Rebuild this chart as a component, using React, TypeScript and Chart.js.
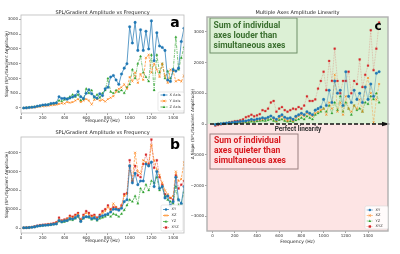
import React, { useEffect, useRef } from "react";
import { Chart, registerables } from "chart.js";
Chart.register(...registerables);

// ---------------- DATA ----------------
const freqs = [25, 50, 75, 100, 125, 150, 175, 200, 225, 250, 275, 300, 325, 350, 375, 400, 425, 450, 475, 500,
  525, 550, 575, 600, 625, 650, 675, 700, 725, 750, 775, 800, 825, 850, 875, 900, 925, 950, 975, 1000,
  1025, 1050, 1075, 1100, 1125, 1150, 1175, 1200, 1225, 1250, 1275, 1300, 1325, 1350, 1375, 1400, 1425, 1450, 1475, 1500];

// panel a
const xAxisSlope = [0, 5, 15, 25, 35, 60, 75, 100, 105, 110, 150, 160, 170, 380, 320, 330, 300, 340, 370, 420,
  560, 380, 320, 500, 620, 480, 380, 330, 480, 420, 650, 700, 1050, 1100, 950, 800, 1150, 1350, 1500, 2750,
  2200, 2900, 1950, 2650, 1950, 2600, 2000, 2950, 1600, 2550, 2100, 2050, 1950, 950, 900, 1300, 1250, 1350, 2250, 2700];
const yAxisSlope = [0, 5, 10, 15, 25, 40, 50, 60, 70, 80, 90, 100, 110, 140, 160, 150, 200, 180, 200, 250,
  300, 200, 250, 300, 250, 120, 280, 300, 250, 280, 220, 300, 350, 400, 550, 650, 700, 800, 650, 1050,
  900, 1200, 850, 1150, 950, 1700, 1800, 1200, 1500, 1300, 1050, 1500, 1100, 850, 1300, 1250, 900, 950, 900, 1100];
const zAxisSlope = [0, 10, 20, 30, 40, 60, 70, 90, 100, 120, 130, 150, 180, 250, 230, 280, 320, 380, 450, 380,
  450, 250, 300, 650, 500, 600, 350, 450, 350, 500, 600, 1000, 550, 500, 600, 550, 600, 500, 700, 800,
  1300, 1000, 1500, 1750, 1200, 1050, 900, 1800, 600, 1800, 1200, 1500, 1000, 1250, 1000, 1250, 2400, 1300, 1700, 2050];

// panel b
const xySlope = [10, 15, 25, 40, 60, 100, 120, 140, 150, 160, 180, 200, 220, 400, 330, 380, 400, 500, 480, 550,
  650, 350, 550, 600, 600, 500, 550, 450, 600, 650, 700, 750, 850, 1000, 1000, 950, 1050, 1400, 1500, 3300,
  2400, 2900, 2300, 2500, 2500, 3400, 3300, 3500, 2200, 3000, 2100, 2200, 1600, 1700, 1200, 1400, 2700, 1500, 1300, 2200];
const xzSlope = [10, 20, 30, 50, 70, 110, 140, 160, 170, 190, 200, 230, 270, 450, 380, 420, 480, 600, 550, 650,
  750, 400, 650, 800, 700, 600, 650, 500, 650, 800, 900, 1100, 900, 1300, 1100, 950, 1150, 1700, 1800, 3300,
  2500, 4000, 3000, 2900, 3600, 3500, 3300, 4400, 3600, 3100, 2800, 2400, 2000, 1800, 1600, 1700, 3000, 2500, 2600, 3500];
const yzSlope = [10, 15, 25, 35, 55, 90, 110, 130, 140, 150, 170, 190, 210, 350, 300, 330, 380, 450, 420, 500,
  600, 350, 500, 600, 550, 450, 500, 400, 500, 550, 600, 700, 600, 750, 700, 600, 750, 950, 1200, 1500,
  1400, 1700, 1300, 2100, 1900, 2300, 2000, 2500, 2400, 2700, 2000, 2200, 1700, 1500, 1400, 1300, 2200, 1200, 1300, 1900];
const xyzSlope = [10, 20, 30, 50, 80, 120, 150, 170, 180, 200, 220, 250, 300, 550, 400, 450, 500, 650, 600, 700,
  800, 450, 700, 900, 800, 650, 700, 550, 700, 900, 1000, 1200, 1000, 1100, 1100, 1000, 1200, 1800, 1850, 3600,
  2500, 3300, 2800, 2700, 3400, 3900, 3400, 4700, 3200, 3600, 2700, 2300, 1800, 1700, 1600, 1500, 2800, 2100, 2300, 2500];

// panel c (delta slope = sum of individual - simultaneous)
const xyDelta = [-20, 0, 10, 20, 30, 40, 50, 60, 70, 80, 90, 100, 120, 150, 130, 160, 170, 200, 180, 220,
  260, 200, 150, 250, 300, 220, 180, 200, 150, 250, 300, 350, 300, 400, 350, 300, 450, 500, 550,
  800, 600, 1100, 700, 1400, 1000, 1100, 600, 1700, 900, 700, 1100, 800, 1000, 700, 1200, 800, 1300, 900, 1650, 1700];
const xzDelta = [-30, -10, 0, 10, 20, 30, 40, 50, 50, 60, 70, 80, 90, 120, 100, 130, 140, 150, 160, 200,
  250, 150, 100, 200, 250, 150, 100, 150, 100, 200, 250, 300, 250, 350, 300, 250, 350, 400, 450,
  500, 300, 700, 500, 1600, 400, 700, 300, 900, 500, 400, 600, 500, 800, 400, 1200, 1500, 1000, 50, 800, 1300];
const yzDelta = [-10, 0, 5, 10, 15, 20, 25, 30, 35, 40, 45, 50, 60, 80, 70, 90, 100, 110, 100, 130,
  150, 100, 80, 130, 150, 100, 80, 90, 70, 120, 150, 200, 150, 250, 200, 150, 300, 350, 400,
  500, 400, 600, 350, 700, 450, 900, 400, 700, 500, 300, 600, 450, 500, 400, 700, 650, 900, 800, 1000, 700];
const xyzDelta = [-50, -30, -10, 10, 20, 50, 70, 90, 100, 120, 150, 220, 250, 300, 250, 280, 320, 450, 420, 500,
  700, 750, 400, 500, 550, 450, 400, 450, 500, 480, 550, 500, 600, 900, 750, 750, 800, 1150, 1400,
  1700, 1100, 2050, 1400, 2450, 1400, 1000, 1400, 1400, 1700, 1000, 1400, 1300, 2100, 1200, 1600, 1900, 3050, 1750, 2450, 3300];

const freqTicks = [0, 200, 400, 600, 800, 1000, 1200, 1400];
const slopeTicksA = [0, 500, 1000, 1500, 2000, 2500, 3000];
const slopeTicksB = [0, 1000, 2000, 3000, 4000];
const deltaTicks = [-3000, -2000, -1000, 0, 1000, 2000, 3000];

const legendA = ["X Axis", "Y Axis", "Z Axis"];
const legendB = ["XY", "XZ", "YZ", "XYZ"];

// ---------------- STYLE ----------------
const FAM = '"DejaVu Sans", sans-serif';
const BLUE = "#1f77b4", ORANGE = "#ff7f0e", GREEN = "#2ca02c", RED = "#d62728";

type Sty = { color: string; point: string; dash: number[] };
const S_BLUE: Sty = { color: BLUE, point: "circle", dash: [] };
const S_ORANGE: Sty = { color: ORANGE, point: "crossRot", dash: [2.5, 1.2] };
const S_GREEN: Sty = { color: GREEN, point: "triangle", dash: [3, 1, 0.8, 1] };
const S_RED: Sty = { color: RED, point: "rect", dash: [0.8, 0.8] };

function hexA(hex: string, a: number) {
  const n = parseInt(hex.slice(1), 16);
  return `rgba(${(n >> 16) & 255},${(n >> 8) & 255},${n & 255},${a})`;
}

function makeDs(label: string, vals: number[], s: Sty, lineAlpha: number) {
  return {
    label,
    data: freqs.map((f, i) => ({ x: f, y: vals[i] })),
    borderColor: hexA(s.color, lineAlpha),
    backgroundColor: s.color,
    pointBackgroundColor: s.color,
    pointBorderColor: s.color,
    pointStyle: s.point,
    pointRadius: s.point === "crossRot" ? 1.4 : 1.3,
    pointBorderWidth: s.point === "crossRot" ? 0.7 : 0.3,
    borderWidth: 0.8,
    borderDash: s.dash,
    tension: 0,
  };
}

function drawMarker(ctx: CanvasRenderingContext2D, kind: string, x: number, y: number, r: number, color: string) {
  ctx.save();
  ctx.fillStyle = color;
  ctx.strokeStyle = color;
  ctx.setLineDash([]);
  ctx.beginPath();
  if (kind === "circle") {
    ctx.arc(x, y, r, 0, Math.PI * 2);
    ctx.fill();
  } else if (kind === "rect") {
    ctx.rect(x - r, y - r, 2 * r, 2 * r);
    ctx.fill();
  } else if (kind === "triangle") {
    ctx.moveTo(x, y - r * 1.2);
    ctx.lineTo(x + r * 1.1, y + r * 0.8);
    ctx.lineTo(x - r * 1.1, y + r * 0.8);
    ctx.closePath();
    ctx.fill();
  } else {
    ctx.lineWidth = 0.7;
    ctx.moveTo(x - r, y - r);
    ctx.lineTo(x + r, y + r);
    ctx.moveTo(x + r, y - r);
    ctx.lineTo(x - r, y + r);
    ctx.stroke();
  }
  ctx.restore();
}

type LegendCfg = {
  box: [number, number, number, number];
  rows: number[];
  lineX: [number, number];
  textX: number;
  labels: string[];
  styles: Sty[];
  lineAlpha: number;
};

function drawLegend(ctx: CanvasRenderingContext2D, L: LegendCfg) {
  ctx.save();
  const [x, y, w, h] = L.box;
  ctx.fillStyle = "rgba(255,255,255,0.85)";
  ctx.strokeStyle = "#d8d8d8";
  ctx.lineWidth = 0.6;
  ctx.beginPath();
  ctx.roundRect(x, y, w, h, 1.5);
  ctx.fill();
  ctx.stroke();
  L.labels.forEach((lab, i) => {
    const s = L.styles[i];
    const yy = L.rows[i];
    ctx.strokeStyle = hexA(s.color, L.lineAlpha);
    ctx.lineWidth = 0.8;
    ctx.setLineDash(s.dash);
    ctx.beginPath();
    ctx.moveTo(L.lineX[0], yy);
    ctx.lineTo(L.lineX[1], yy);
    ctx.stroke();
    ctx.setLineDash([]);
    drawMarker(ctx, s.point, (L.lineX[0] + L.lineX[1]) / 2, yy, 1.2, s.color);
    ctx.fillStyle = "#333";
    ctx.font = `3.6px ${FAM}`;
    ctx.textAlign = "left";
    ctx.textBaseline = "middle";
    ctx.fillText(lab, L.textX, yy);
  });
  ctx.restore();
}

type PanelCfg = {
  title: string;
  titleY: number;
  xTitle: string;
  xTitleY: number;
  yTitle: string;
  yTitleX: number;
  letter: string;
  letterPos: [number, number];
  letterSize: number;
  legend: LegendCfg;
  frameColor: string;
  frameWidth: number;
  extraBefore?: (chart: any) => void;
  extraAfter?: (chart: any) => void;
};

function decorPlugin(P: PanelCfg) {
  return {
    id: "decor",
    beforeDatasetsDraw(chart: any) {
      if (P.extraBefore) P.extraBefore(chart);
    },
    afterDatasetsDraw(chart: any) {
      if (P.extraAfter) P.extraAfter(chart);
    },
    afterDraw(chart: any) {
      const ctx: CanvasRenderingContext2D = chart.ctx;
      const a = chart.chartArea;
      ctx.save();
      ctx.strokeStyle = P.frameColor;
      ctx.lineWidth = P.frameWidth;
      ctx.strokeRect(a.left, a.top, a.right - a.left, a.bottom - a.top);
      ctx.fillStyle = "#222";
      ctx.textAlign = "center";
      ctx.textBaseline = "middle";
      ctx.font = `5px ${FAM}`;
      ctx.fillText(P.title, (a.left + a.right) / 2, P.titleY);
      ctx.font = `4.6px ${FAM}`;
      ctx.fillText(P.xTitle, (a.left + a.right) / 2, P.xTitleY);
      ctx.save();
      ctx.translate(P.yTitleX, (a.top + a.bottom) / 2);
      ctx.rotate(-Math.PI / 2);
      ctx.font = `4.2px ${FAM}`;
      ctx.fillText(P.yTitle, 0, 0);
      ctx.restore();
      ctx.fillStyle = "#000";
      ctx.font = `bold ${P.letterSize}px ${FAM}`;
      ctx.fillText(P.letter, P.letterPos[0], P.letterPos[1]);
      ctx.restore();
      drawLegend(ctx, P.legend);
    },
  };
}

function axisOpts(min: number, max: number, ticks: number[], fit: (s: any) => void) {
  return {
    type: "linear" as const,
    min,
    max,
    afterBuildTicks: (s: any) => {
      s.ticks = ticks.map((v) => ({ value: v }));
    },
    afterFit: fit,
    border: { display: false },
    grid: { drawOnChartArea: false, drawTicks: true, tickLength: 2, color: "#444", lineWidth: 0.5 },
    ticks: {
      font: { size: 4, family: FAM },
      color: "#333",
      padding: 1,
      autoSkip: false,
      maxRotation: 0,
      callback: (v: any) => (Number(v) < 0 ? "\u2212" + Math.abs(Number(v)) : String(v)),
    },
  };
}

function baseConfig(datasets: any[], P: PanelCfg, ax: any) {
  return {
    type: "line" as const,
    data: { datasets },
    options: {
      responsive: false,
      animation: false as const,
      devicePixelRatio: 1,
      layout: { padding: ax.pad },
      plugins: { legend: { display: false }, title: { display: false }, tooltip: { enabled: false } },
      scales: {
        x: axisOpts(ax.xMin, ax.xMax, ax.xTicks, (s: any) => { s.height = ax.xH; }),
        y: axisOpts(ax.yMin, ax.yMax, ax.yTicks, (s: any) => { s.width = ax.yW; }),
      },
    },
    plugins: [decorPlugin(P)],
  };
}

function configA() {
  const ds = [
    makeDs(legendA[0], xAxisSlope, S_BLUE, 0.9),
    makeDs(legendA[1], yAxisSlope, S_ORANGE, 0.8),
    makeDs(legendA[2], zAxisSlope, S_GREEN, 0.8),
  ];
  const P: PanelCfg = {
    title: "SPL/Gradient Amplitude vs Frequency",
    titleY: 13,
    xTitle: "Frequency (Hz)",
    xTitleY: 121,
    yTitle: "Slope (SPL/Gradient Amplitude)",
    yTitleX: 7,
    letter: "a",
    letterPos: [175, 23],
    letterSize: 14,
    frameColor: "#bbbbbb",
    frameWidth: 0.8,
    legend: {
      box: [158, 92, 26, 19],
      rows: [95, 101, 107],
      lineX: [160.5, 167.5],
      textX: 169.5,
      labels: legendA,
      styles: [S_BLUE, S_ORANGE, S_GREEN],
      lineAlpha: 0.9,
    },
  };
  return baseConfig(ds, P, {
    pad: { left: 0, right: 16, top: 15, bottom: 0 },
    xMin: 0, xMax: 1500, xTicks: freqTicks, xH: 14,
    yMin: -170, yMax: 3150, yTicks: slopeTicksA, yW: 21,
  });
}

function configB() {
  const ds = [
    makeDs(legendB[0], xySlope, S_BLUE, 0.9),
    makeDs(legendB[1], xzSlope, S_ORANGE, 0.8),
    makeDs(legendB[2], yzSlope, S_GREEN, 0.8),
    makeDs(legendB[3], xyzSlope, S_RED, 0.8),
  ];
  const P: PanelCfg = {
    title: "SPL/Gradient Amplitude vs Frequency",
    titleY: 6,
    xTitle: "Frequency (Hz)",
    xTitleY: 114,
    yTitle: "Slope (SPL/Gradient Amplitude)",
    yTitleX: 7,
    letter: "b",
    letterPos: [175, 18],
    letterSize: 14,
    frameColor: "#bbbbbb",
    frameWidth: 0.8,
    legend: {
      box: [161, 78, 22, 26],
      rows: [82.5, 88.5, 94.5, 100.5],
      lineX: [163, 169],
      textX: 171.5,
      labels: legendB,
      styles: [S_BLUE, S_ORANGE, S_GREEN, S_RED],
      lineAlpha: 0.9,
    },
  };
  return baseConfig(ds, P, {
    pad: { left: 0, right: 16, top: 10, bottom: 0 },
    xMin: 0, xMax: 1500, xTicks: freqTicks, xH: 21,
    yMin: -265, yMax: 4835, yTicks: slopeTicksB, yW: 21,
  });
}

function configC() {
  const ds = [
    makeDs(legendB[0], xyDelta, S_BLUE, 0.45),
    makeDs(legendB[1], xzDelta, S_ORANGE, 0.45),
    makeDs(legendB[2], yzDelta, S_GREEN, 0.45),
    makeDs(legendB[3], xyzDelta, S_RED, 0.35),
  ];
  const BOX_FONT = '"Roboto", "Liberation Sans", sans-serif';
  const drawBox = (ctx: CanvasRenderingContext2D, x: number, y: number, w: number, h: number,
    lines: string[], lx: number, ly: number[], color: string, border: string) => {
    ctx.save();
    ctx.strokeStyle = border;
    ctx.lineWidth = 1;
    ctx.strokeRect(x, y, w, h);
    ctx.font = `bold 10px ${BOX_FONT}`;
    const wRef = ctx.measureText("simultaneous axes").width;
    const size = (10 * 72) / wRef;
    ctx.font = `bold ${size}px ${BOX_FONT}`;
    ctx.fillStyle = color;
    ctx.textAlign = "left";
    ctx.textBaseline = "middle";
    lines.forEach((t, i) => ctx.fillText(t, lx, ly[i]));
    ctx.restore();
  };
  const P: PanelCfg = {
    title: "Multiple Axes Amplitude Linearity",
    titleY: 13,
    xTitle: "Frequency (Hz)",
    xTitleY: 242,
    yTitle: "\u0394 Slope (SPL/Gradient Amplitude)",
    yTitleX: 3,
    letter: "c",
    letterPos: [188, 27],
    letterSize: 12,
    frameColor: "#b0b0b0",
    frameWidth: 1.4,
    legend: {
      box: [175, 206, 23, 23],
      rows: [210, 215.5, 221, 226.5],
      lineX: [176.7, 183],
      textX: 185.5,
      labels: legendB,
      styles: [S_BLUE, S_ORANGE, S_GREEN, S_RED],
      lineAlpha: 0.6,
    },
    extraBefore: (chart: any) => {
      const ctx: CanvasRenderingContext2D = chart.ctx;
      const a = chart.chartArea;
      const y0 = chart.scales.y.getPixelForValue(0);
      ctx.save();
      ctx.fillStyle = "#dcf0d5";
      ctx.fillRect(a.left, a.top, a.right - a.left, y0 - a.top);
      ctx.fillStyle = "#fde4e4";
      ctx.fillRect(a.left, y0, a.right - a.left, a.bottom - y0);
      ctx.restore();
    },
    extraAfter: (chart: any) => {
      const ctx: CanvasRenderingContext2D = chart.ctx;
      const a = chart.chartArea;
      const y0 = chart.scales.y.getPixelForValue(0);
      ctx.save();
      ctx.strokeStyle = "#111";
      ctx.lineWidth = 1.3;
      ctx.setLineDash([4, 2]);
      ctx.beginPath();
      ctx.moveTo(a.left + 3, y0);
      ctx.lineTo(a.right - 4, y0);
      ctx.stroke();
      ctx.setLineDash([]);
      ctx.fillStyle = "#111";
      ctx.beginPath();
      ctx.moveTo(a.right + 2, y0);
      ctx.lineTo(a.right - 6, y0 - 2.2);
      ctx.lineTo(a.right - 6, y0 + 2.2);
      ctx.closePath();
      ctx.fill();
      ctx.fillStyle = "#333";
      ctx.font = `bold 6.5px ${BOX_FONT}`;
      ctx.textAlign = "center";
      ctx.textBaseline = "middle";
      ctx.fillText("Perfect linearity", 108, y0 + 5);
      ctx.restore();
      drawBox(ctx, 20, 18, 87, 35, ["Sum of individual", "axes louder than", "simultaneous axes"],
        23.5, [25.7, 35.7, 45.7], "#3b7030", "#6f8f68");
      drawBox(ctx, 20, 134, 88, 35, ["Sum of individual", "axes quieter than", "simultaneous axes"],
        24, [141.3, 151.3, 161.3], "#d7191f", "#9a8080");
    },
  };
  return baseConfig(ds, P, {
    pad: { left: 0, right: 12, top: 17, bottom: 0 },
    xMin: -50, xMax: 1580, xTicks: freqTicks, xH: 23,
    yMin: -3480, yMax: 3480, yTicks: deltaTicks, yW: 17,
  });
}

export default function App() {
  const ra = useRef<HTMLCanvasElement>(null);
  const rb = useRef<HTMLCanvasElement>(null);
  const rc = useRef<HTMLCanvasElement>(null);
  useEffect(() => {
    document.body.style.margin = "0";
    const charts = [
      new Chart(ra.current as HTMLCanvasElement, configA() as any),
      new Chart(rb.current as HTMLCanvasElement, configB() as any),
      new Chart(rc.current as HTMLCanvasElement, configC() as any),
    ];
    return () => charts.forEach((c) => c.destroy());
  }, []);
  return (
    <div style={{ position: "relative", width: 400, height: 254, background: "#fff", overflow: "hidden" }}>
      <canvas ref={ra} width={200} height={127} style={{ position: "absolute", left: 0, top: 0, width: 200, height: 127 }} />
      <canvas ref={rb} width={200} height={127} style={{ position: "absolute", left: 0, top: 127, width: 200, height: 127 }} />
      <canvas ref={rc} width={210} height={254} style={{ position: "absolute", left: 190, top: 0, width: 210, height: 254 }} />
    </div>
  );
}
